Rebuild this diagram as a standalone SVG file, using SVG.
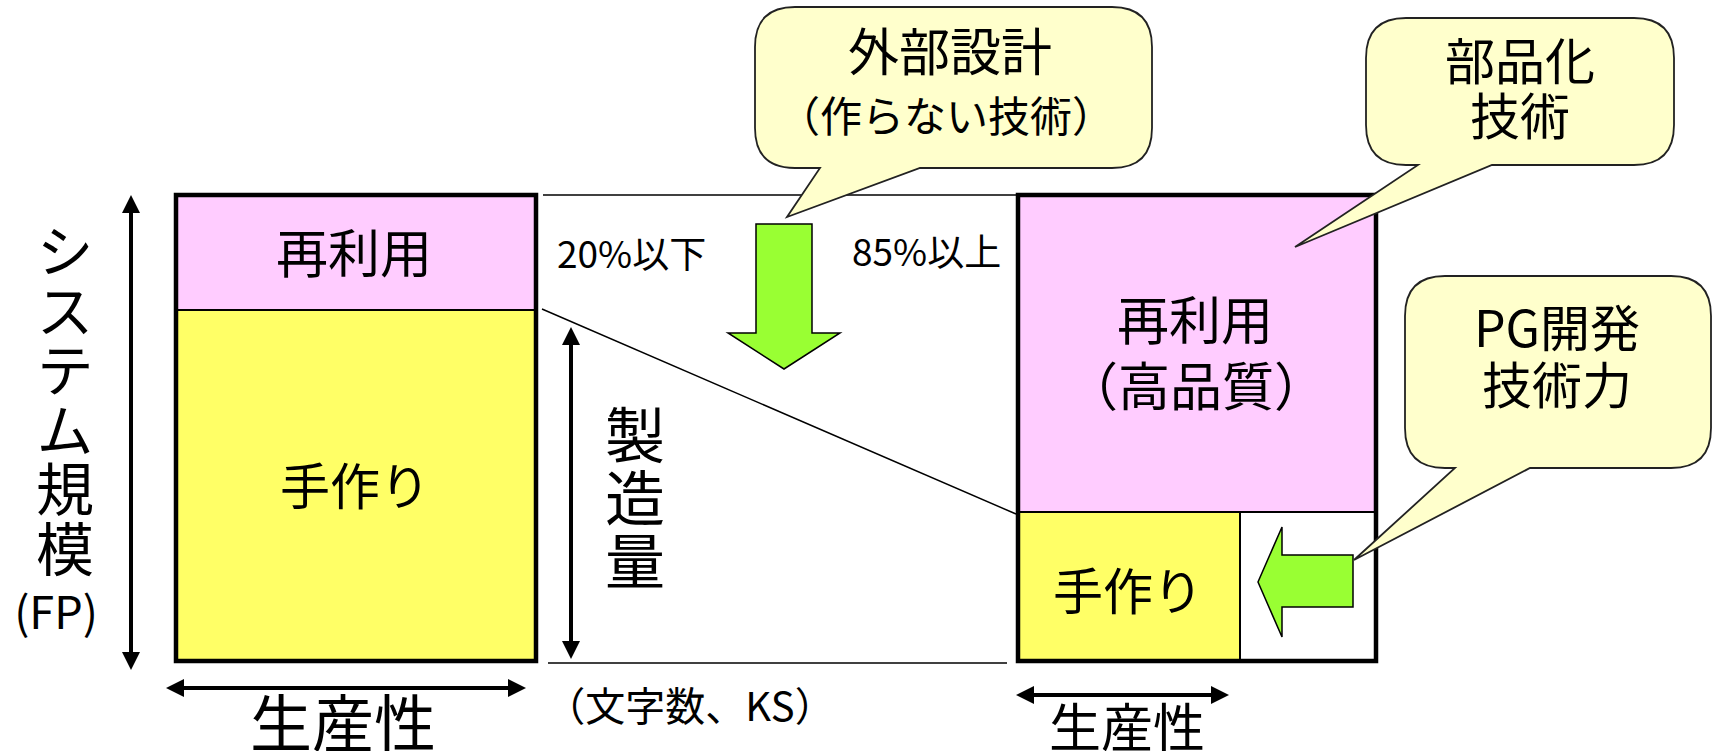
<svg xmlns="http://www.w3.org/2000/svg" width="1717" height="751" viewBox="0 0 1717 751">
<defs>
<style>
text{font-family:"Noto Sans CJK JP","Noto Sans",sans-serif;fill:#000}
.box{stroke:#000;stroke-width:4.5}
.thin{stroke:#000;stroke-width:1.5;fill:none}
.div{stroke:#000;stroke-width:2;fill:none}
.axis{stroke:#000;stroke-width:4;fill:none}
.call{fill:#FFFFCC;stroke:#222;stroke-width:1.8}
.green{fill:#99FF33;stroke:#000;stroke-width:1.5}
.c{text-anchor:middle}
.v{writing-mode:vertical-rl;text-anchor:start}
</style>
<marker id="ah" markerUnits="userSpaceOnUse" markerWidth="18" markerHeight="18" refX="0" refY="9" orient="auto-start-reverse" viewBox="0 0 18 18">
<path d="M0,0 L18,9 L0,18 Z" fill="#000"/>
</marker>
</defs>
<rect width="1717" height="751" fill="#fff"/>

<g id="left-box">
<rect x="176" y="195" width="360" height="115" fill="#FFCCFF"/>
<rect x="176" y="310" width="360" height="351" fill="#FFFF66"/>
<line x1="176" y1="310" x2="536" y2="310" class="div"/>
<rect x="176" y="195" width="360" height="466" fill="none" class="box"/>
<text x="354" y="273" class="c" font-size="52">再利用</text>
<text x="355" y="505" class="c" font-size="50">手作り</text>
</g>

<g id="right-box">
<rect x="1018" y="195" width="358" height="317" fill="#FFCCFF"/>
<rect x="1018" y="512" width="222" height="149" fill="#FFFF66"/>
<rect x="1240" y="512" width="136" height="149" fill="#FFFFFF"/>
<line x1="1018" y1="512" x2="1376" y2="512" class="div"/>
<line x1="1240" y1="512" x2="1240" y2="661" class="div"/>
<rect x="1018" y="195" width="358" height="466" fill="none" class="box"/>
<text class="c" font-size="52"><tspan x="1195" y="340">再利用</tspan><tspan x="1196" y="406">（高品質）</tspan></text>
<text x="1128" y="610" class="c" font-size="50">手作り</text>
</g>

<g id="connectors">
<line x1="543" y1="195" x2="1016" y2="195" class="thin"/>
<line x1="542" y1="309" x2="1016" y2="514" class="thin"/>
<line x1="548" y1="663" x2="1007" y2="663" class="thin"/>
<line x1="131" y1="213" x2="131" y2="652" class="axis" marker-start="url(#ah)" marker-end="url(#ah)"/>
<line x1="184" y1="688" x2="508" y2="688" class="axis" marker-start="url(#ah)" marker-end="url(#ah)"/>
<line x1="571" y1="345" x2="571" y2="641" class="axis" marker-start="url(#ah)" marker-end="url(#ah)"/>
<line x1="1034" y1="695" x2="1211" y2="695" class="axis" marker-start="url(#ah)" marker-end="url(#ah)"/>
<polygon class="green" points="756,224 812,224 812,333 840,333 784,369 728,333 756,333"/>
<polygon class="green" points="1353,555 1353,607 1282,607 1282,637 1258,582 1282,527 1282,555"/>
</g>

<g id="labels">
<text x="65" y="222" class="v" font-size="58" letter-spacing="1.5">システム規模</text>
<text x="56" y="629" class="c" font-size="45">(FP)</text>
<text x="635" y="405" class="v" font-size="60" letter-spacing="3">製造量</text>
<text x="557" y="268" font-size="37">20%以下</text>
<text x="852" y="266" font-size="37">85%以上</text>
<text x="690" y="721" class="c" font-size="40">（文字数、KS）</text>
<text x="343" y="747" class="c" font-size="62">生産性</text>
<text x="1127" y="747" class="c" font-size="52">生産性</text>
</g>

<g id="callout-external">
<path class="call" d="M795,7 H1112 Q1152,7 1152,47 V128 Q1152,168 1112,168 H920 L787,217 L820,168 H795 Q755,168 755,128 V47 Q755,7 795,7 Z"/>
<text class="c"><tspan x="950" y="71" font-size="51">外部設計</tspan><tspan x="946" y="132" font-size="42">（作らない技術）</tspan></text>
</g>

<g id="callout-parts">
<path class="call" d="M1406,18 H1634 Q1674,18 1674,58 V125 Q1674,165 1634,165 H1492 L1295,247 L1418,165 H1406 Q1366,165 1366,125 V58 Q1366,18 1406,18 Z"/>
<text class="c" font-size="50"><tspan x="1520" y="80">部品化</tspan><tspan x="1520" y="135">技術</tspan></text>
</g>

<g id="callout-pg">
<path class="call" d="M1445,276 H1671 Q1711,276 1711,316 V428 Q1711,468 1671,468 H1530 L1354,560 L1455,468 H1445 Q1405,468 1405,428 V316 Q1405,276 1445,276 Z"/>
<text class="c" font-size="50"><tspan x="1557" y="347">PG開発</tspan><tspan x="1557" y="404">技術力</tspan></text>
</g>
</svg>
